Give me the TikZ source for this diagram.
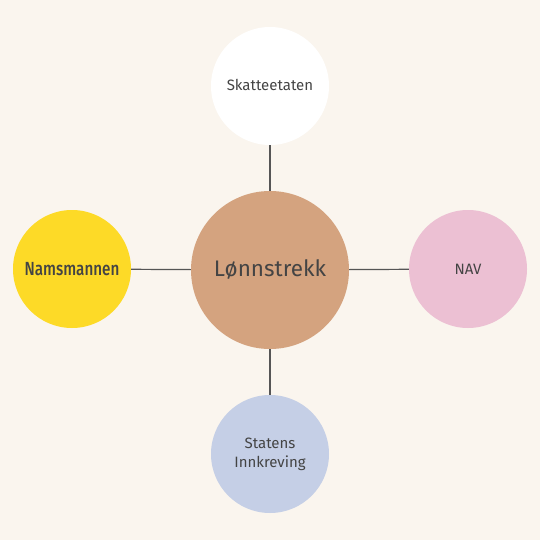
\documentclass[tikz,border=0pt]{standalone}
\usepackage{fontspec}
\setmainfont{Fira Sans}
\newfontfamily\condfont[FakeStretch=0.8]{Fira Sans Medium}
\definecolor{bg}{HTML}{FAF5EE}
\definecolor{center}{HTML}{D4A37F}
\definecolor{yel}{HTML}{FDDA27}
\definecolor{pinkc}{HTML}{ECC0D3}
\definecolor{bluec}{HTML}{C5CFE6}
\definecolor{txt}{HTML}{444444}
\definecolor{ln}{HTML}{555555}
\begin{document}
\begin{tikzpicture}[x=1pt,y=-1pt,
  bubble/.style={circle,inner sep=0pt,minimum size=118pt,text=txt,font=\fontsize{15}{19}\selectfont,align=center},
  link/.style={draw=ln,line width=1.2pt}]
\fill[bg] (0,0) rectangle (540,540);
\useasboundingbox (0,0) rectangle (540,540);
\node[bubble,fill=center,minimum size=158pt,font=\fontsize{22.5}{26}\selectfont] (c) at (270,270) {Lønnstrekk};
\node[bubble,fill=white] (t) at (270,86) {\raisebox{2pt}{Skatteetaten}};
\node[bubble,fill=yel,font=\condfont\fontsize{19}{22}\selectfont] (l) at (72,269) {Namsmannen};
\node[bubble,fill=pinkc,font=\fontsize{15}{18}\selectfont] (r) at (468,269) {NAV};
\node[bubble,fill=bluec] (b) at (270,454) {Statens\\Innkreving};
\draw[link] (c) -- (t);
\draw[link] (c) -- (l);
\draw[link] (c) -- (r);
\draw[link] (c) -- (b);
\end{tikzpicture}
\end{document}
